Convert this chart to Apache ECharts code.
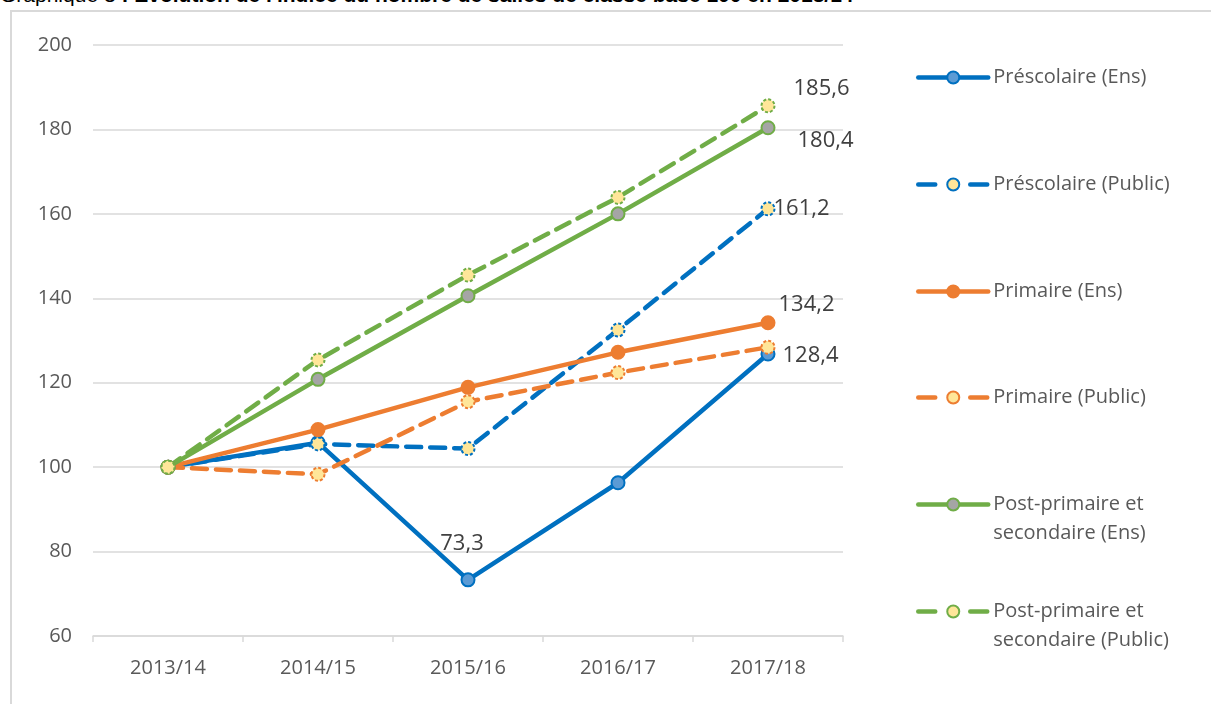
<!DOCTYPE html>
<html>
<head>
<meta charset="utf-8">
<script src="https://cdn.jsdelivr.net/npm/echarts@6/dist/echarts.min.js"></script>
<style>
	html, body { margin: 0; padding: 0; background: #fff; overflow: hidden; }
	.title {
		position: absolute; left: 0; top: -17px; white-space: nowrap;
		font-family: "Liberation Sans", Arial, sans-serif; font-size: 21px; line-height: 24px; color: #000;
	}
	.frame {
		position: absolute; left: 10px; top: 10px; width: 1210px; height: 700px;
		border-left: 2px solid #d9d9d9; border-top: 2px solid #d9d9d9;
	}
	#chart { position: absolute; left: 0; top: 0; width: 1211px; height: 704px; }
</style>
</head>
<body>
<div class="title">Graphique 3 <b>: Évolution de l'indice du nombre de salles de classe base 100 en 2013/14</b></div>
<div class="frame"></div>
<div id="chart"></div>
<script>
	// données
	var years = ['2013/14', '2014/15', '2015/16', '2016/17', '2017/18'];
	var yTicks = [60, 80, 100, 120, 140, 160, 180, 200];
	var prescolaireEns = [100, 105.8, 73.3, 96.3, 126.8];
	var prescolairePublic = [100, 105.5, 104.4, 132.5, 161.2];
	var primaireEns = [100, 108.9, 118.9, 127.2, 134.2];
	var primairePublic = [100, 98.3, 115.5, 122.4, 128.4];
	var postEns = [100, 120.8, 140.6, 160, 180.4];
	var postPublic = [100, 125.4, 145.5, 163.9, 185.6];

	var BLUE = '#0070c0', ORANGE = '#ed7d31', GREEN = '#70ad47', YELLOW = '#ffe699';
	var FONT = '"Open Sans", "Noto Sans", sans-serif';

	// étiquette sur un point précis
	function withLabels(values, labels) {
		return values.map(function (v, i) {
			if (!labels[i]) return v;
			return { value: v, label: Object.assign({
				show: true, color: '#404040', fontSize: 22, fontFamily: FONT,
				formatter: function (p) { return String(p.value).replace('.', ','); }
			}, labels[i]) };
		});
	}

	function serie(name, values, color, dashed, fill, labels) {
		return {
			name: name,
			type: 'line',
			data: withLabels(values, labels || {}),
			symbol: 'circle',
			symbolSize: 13,
			lineStyle: { color: color, width: 4.5, type: dashed ? [15, 9] : 'solid', cap: 'round' },
			itemStyle: { color: fill, borderColor: color, borderWidth: 2, borderType: dashed ? [3, 2] : 'solid' },
			emphasis: { disabled: true }
		};
	}

	var names = ['Préscolaire (Ens)', 'Préscolaire (Public)', 'Primaire (Ens)', 'Primaire (Public)',
		'Post-primaire et\nsecondaire (Ens)', 'Post-primaire et\nsecondaire (Public)'];
	var legendTops = [63, 170, 277, 383, 461, 568];

	var chart = echarts.init(document.getElementById('chart'));
	chart.setOption({
		animation: false,
		grid: { left: 93, right: 368, top: 45, bottom: 68 },
		legend: names.map(function (n, i) {
			var twoLines = n.indexOf('\n') >= 0;
			return {
				data: [n], left: 916, top: legendTops[i], padding: 0,
				itemWidth: 70, itemHeight: 15, itemGap: 7,
				lineStyle: { width: 4.5, type: i % 2 ? [17, 35] : 'solid' },
				// ligne vide en tête : l'icône s'aligne sur la première ligne
				formatter: function (name) { return twoLines ? '\n' + name : name; },
				textStyle: { color: '#595959', fontSize: 20, fontFamily: FONT, lineHeight: 29 },
				selectedMode: false
			};
		}),
		xAxis: {
			type: 'category',
			data: years,
			boundaryGap: true,
			axisLine: { lineStyle: { color: '#d9d9d9', width: 1.5 } },
			axisTick: { show: true, length: 6, lineStyle: { color: '#d9d9d9', width: 1.5 } },
			axisLabel: { color: '#595959', fontSize: 20, fontFamily: FONT, margin: 22 }
		},
		yAxis: {
			type: 'value',
			min: yTicks[0],
			max: yTicks[yTicks.length - 1],
			interval: 20,
			axisLine: { show: false },
			axisTick: { show: false },
			splitLine: { lineStyle: { color: '#d9d9d9', width: 1.5 } },
			axisLabel: { color: '#595959', fontSize: 20, fontFamily: FONT, margin: 21 }
		},
		series: [
			serie(names[0], prescolaireEns, BLUE, false, '#5b9bd5', { 2: { position: 'top', offset: [-6, -13] } }),
			serie(names[1], prescolairePublic, BLUE, true, YELLOW, { 4: { position: 'right', offset: [-7, 0] } }),
			serie(names[2], primaireEns, ORANGE, false, ORANGE, { 4: { position: 'right', offset: [-2, -18] } }),
			serie(names[3], primairePublic, ORANGE, true, YELLOW, { 4: { position: 'right', offset: [2, 8] } }),
			serie(names[4], postEns, GREEN, false, '#a5a5a5', { 4: { position: 'right', offset: [17, 13] } }),
			serie(names[5], postPublic, GREEN, true, YELLOW, { 4: { position: 'right', offset: [13, -17] } })
		]
	});
</script>
</body>
</html>
